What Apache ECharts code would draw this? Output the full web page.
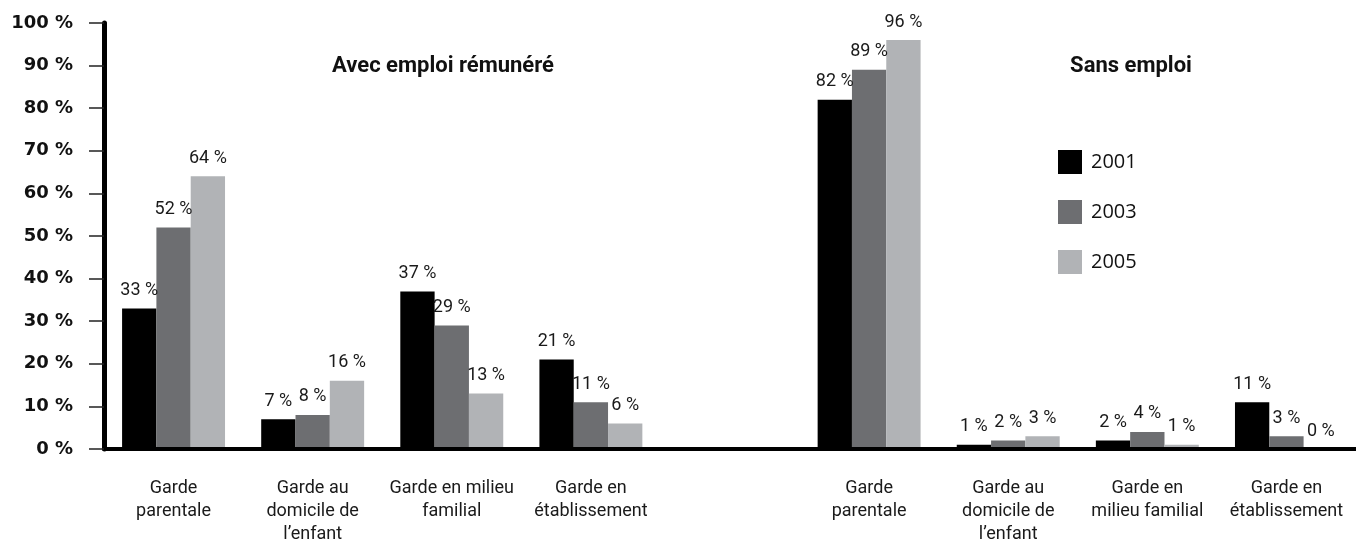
<!DOCTYPE html>
<html>
<head>
<meta charset="utf-8">
<script src="https://cdn.jsdelivr.net/npm/echarts@6/dist/echarts.min.js"></script>
<style>
    html, body { margin: 0; padding: 0; background: #fff; }
    #app { width: 1356px; height: 546px; }
</style>
</head>
<body>
<div id="app"></div>
<script>
// 类别（中间一格留空，分隔两组）
let categories = [
    "Garde\nparentale", "Garde au\ndomicile de\nl’enfant", "Garde en milieu\nfamilial", "Garde en\nétablissement",
    "",
    "Garde\nparentale", "Garde au\ndomicile de\nl’enfant", "Garde en\nmilieu familial", "Garde en\nétablissement"
];
// 各年份数据（%）
let years = ["2001", "2003", "2005"];
let data2001 = [33, 7, 37, 21, "-", 82, 1, 2, 11];
let data2003 = [52, 8, 29, 11, "-", 89, 2, 4, 3];
let data2005 = [64, 16, 13, 6, "-", 96, 3, 1, 0];
let colors = ["#000000", "#6d6e71", "#b1b3b6"];
// 纵轴刻度
let yMin = 0, yMax = 100, yStep = 10;
// 两组标题
let groupTitles = ["Avec emploi rémunéré", "Sans emploi"];

let myChart = echarts.init(document.querySelector("#app"));

let makeSeries = (name, values, color) => ({
    name: name,
    type: "bar",
    data: values,
    barGap: "0%",
    barCategoryGap: "26%",
    itemStyle: { color: color },
    label: {
        show: true,
        position: "top",
        distance: 9,
        formatter: "{c} %",
        fontFamily: "Roboto",
        fontSize: 18,
        color: "#1a1a1a"
    }
});

myChart.setOption({
    animation: false,
    color: colors,
    grid: { left: 104, right: 0, top: 23, bottom: 95 },
    legend: {
        data: years,
        orient: "vertical",
        left: 1058,
        top: 150,
        padding: 0,
        icon: "rect",
        itemWidth: 24,
        itemHeight: 24,
        itemGap: 26,
        textStyle: { fontFamily: "Open Sans", fontSize: 20, color: "#111", padding: [0, 0, 0, 4] }
    },
    graphic: [
        { type: "text", x: 443, y: 66, style: { text: groupTitles[0], textAlign: "center", textVerticalAlign: "middle", font: "bold 22px Roboto", fill: "#111" } },
        { type: "text", x: 1131, y: 66, style: { text: groupTitles[1], textAlign: "center", textVerticalAlign: "middle", font: "bold 22px Roboto", fill: "#111" } }
    ],
    xAxis: {
        type: "category",
        data: categories,
        z: 5,
        axisLine: { lineStyle: { color: "#000", width: 4 } },
        axisTick: {
            length: 12,
            interval: (i) => i !== 0,
            lineStyle: { color: "#444", width: 1.5 }
        },
        axisLabel: {
            interval: 0,
            margin: 28,
            fontFamily: "Roboto",
            fontSize: 18,
            lineHeight: 23,
            color: "#1a1a1a"
        }
    },
    yAxis: {
        type: "value",
        min: yMin,
        max: yMax,
        interval: yStep,
        z: 5,
        splitLine: { show: false },
        axisLine: { show: true, lineStyle: { color: "#000", width: 5 } },
        axisTick: { show: true, length: 15, lineStyle: { color: "#222", width: 1.5 } },
        axisLabel: {
            margin: 31,
            formatter: "{value} %",
            fontFamily: "DejaVu Sans",
            fontWeight: "bold",
            fontSize: 18,
            color: "#111"
        }
    },
    series: [
        makeSeries(years[0], data2001, colors[0]),
        makeSeries(years[1], data2003, colors[1]),
        makeSeries(years[2], data2005, colors[2])
    ]
});
</script>
</body>
</html>
